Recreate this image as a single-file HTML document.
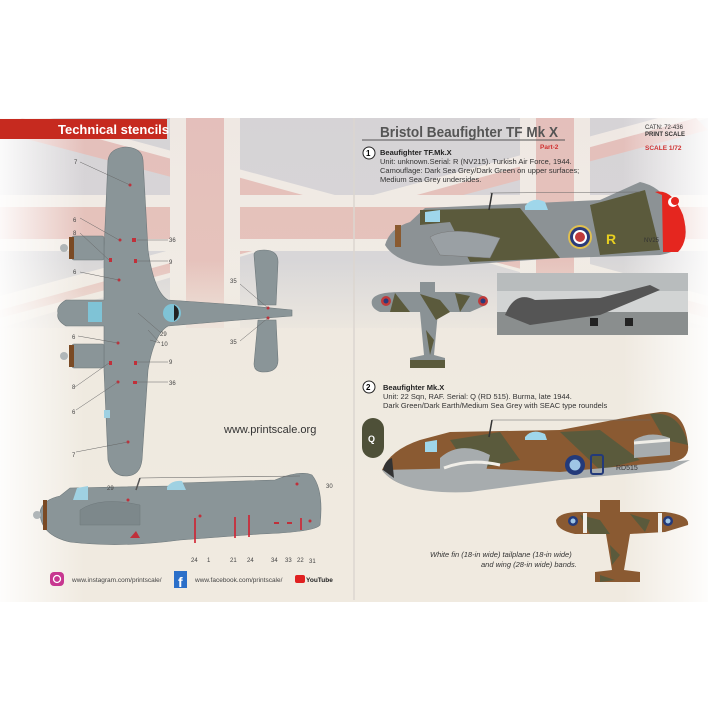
<!DOCTYPE html>
<html><head><meta charset="utf-8"><style>
body{margin:0;background:#fff;width:708px;height:708px;overflow:hidden}
svg{display:block}
text{font-family:"Liberation Sans",sans-serif}
</style></head><body>
<svg width="708" height="708" viewBox="0 0 708 708">
<defs>
<linearGradient id="paper" x1="0" y1="0" x2="0" y2="1">
<stop offset="0" stop-color="#ebe2dc"/><stop offset="0.35" stop-color="#ede7de"/><stop offset="1" stop-color="#f1ece2"/>
</linearGradient>
<linearGradient id="hv" x1="0" y1="0" x2="1" y2="0">
<stop offset="0" stop-color="#fff" stop-opacity="0.9"/><stop offset="0.12" stop-color="#fff" stop-opacity="0"/><stop offset="0.88" stop-color="#fff" stop-opacity="0"/><stop offset="1" stop-color="#fff" stop-opacity="0.9"/>
</linearGradient>
<linearGradient id="fade" x1="0" y1="0" x2="0" y2="1">
<stop offset="0" stop-color="#efe9e0" stop-opacity="0"/><stop offset="1" stop-color="#efe9e0" stop-opacity="1"/>
</linearGradient>
</defs>
<rect width="708" height="708" fill="#fff"/>
<rect x="0" y="118" width="708" height="484" fill="url(#paper)"/>
<!-- faded union jack -->
<g opacity="0.22">
<rect x="0" y="118" width="708" height="210" fill="#8fa0c4"/>
<path d="M0 118 L708 328 L708 296 L50 118Z M708 118 L0 328 L0 296 L658 118Z" fill="#fff"/>
<path d="M0 132 L708 318 L708 306 L22 118Z M696 118 L0 310 L0 318 L708 130Z" fill="#d04848"/>
<rect x="0" y="195" width="708" height="56" fill="#fff"/>
<rect x="0" y="207" width="708" height="32" fill="#d04848"/>
<rect x="170" y="118" width="70" height="210" fill="#fff"/>
<rect x="186" y="118" width="38" height="210" fill="#d04848"/>
<rect x="520" y="118" width="70" height="210" fill="#fff"/>
<rect x="536" y="118" width="38" height="210" fill="#d04848"/>
</g>
<rect x="0" y="260" width="708" height="80" fill="url(#fade)"/>
<rect x="0" y="340" width="708" height="262" fill="#efe9df" opacity="0.7"/>
<rect x="0" y="118" width="708" height="484" fill="url(#hv)"/>
<line x1="354" y1="118" x2="354" y2="600" stroke="#dcd6d0" stroke-width="1.5"/>

<!-- banner -->
<rect x="0" y="119" width="167" height="20" fill="#c62a1f"/>
<text x="58" y="134" font-family="Liberation Serif" font-weight="bold" font-size="13" fill="#fff">Technical stencils</text>

<!-- LEFT top-view plane -->
<g fill="#8a9598" stroke="#6e787b" stroke-width="0.6">
<path d="M108 160 Q110 148 126 147 Q142 148 143 160 L148 250 Q154 292 168 300 L240 305 L292 310 L292 316 L240 320 L168 326 Q154 334 148 370 L142 460 Q140 476 126 476 Q112 476 108 460 L104 370 L104 326 L66 326 Q56 320 58 313 Q56 306 66 300 L104 300 L104 250Z"/>
<path d="M254 255 Q254 250 264 250 Q278 250 278 262 L276 305 L258 305Z"/>
<path d="M258 320 L276 320 L278 360 Q278 372 264 372 Q254 372 254 364Z"/>
<rect x="72" y="236" width="32" height="24" rx="2"/>
<rect x="72" y="344" width="32" height="24" rx="2"/>
</g>
<rect x="69" y="237" width="5" height="22" fill="#7a4a24"/>
<rect x="69" y="345" width="5" height="22" fill="#7a4a24"/>
<circle cx="64" cy="248" r="4" fill="#b0b6b8"/><circle cx="64" cy="356" r="4" fill="#b0b6b8"/>
<rect x="88" y="302" width="14" height="20" fill="#7fc3d6"/>
<circle cx="172" cy="313" r="9" fill="#7fc3d6"/><path d="M174 305 A9 9 0 0 1 174 321Z" fill="#222"/>
<rect x="104" y="410" width="6" height="8" fill="#9fd1e2"/>
<g fill="#c0303a">
<circle cx="130" cy="185" r="1.5"/><circle cx="120" cy="240" r="1.5"/><rect x="132" y="238" width="4" height="4"/><rect x="109" y="258" width="3" height="4"/><rect x="134" y="259" width="3" height="4"/><circle cx="119" cy="280" r="1.5"/><circle cx="118" cy="343" r="1.5"/><rect x="109" y="361" width="3" height="4"/><rect x="134" y="361" width="3" height="4"/><circle cx="118" cy="382" r="1.5"/><rect x="133" y="381" width="4" height="3"/><circle cx="128" cy="442" r="1.5"/><circle cx="268" cy="308" r="1.5"/><circle cx="268" cy="318" r="1.5"/>
</g>
<g stroke="#666" stroke-width="0.5" fill="none">
<path d="M80 162 L130 185 M80 218 L119 240 M80 233 L109 260 M80 272 L119 280 M78 336 L118 343 M75 387 L109 363 M76 410 L118 382 M76 452 L128 442 M137 240 L168 240 M137 261 L168 261 M137 362 L168 362 M137 382 L168 382 M240 284 L268 308 M240 341 L268 318 M138 313 L160 332 M148 330 L160 343 M150 340 L160 343"/>
</g>
<g font-size="6" fill="#444">
<text x="74" y="164">7</text><text x="73" y="222">6</text><text x="73" y="235">8</text><text x="73" y="274">6</text><text x="72" y="339">6</text><text x="72" y="389">8</text><text x="72" y="414">6</text><text x="72" y="457">7</text>
<text x="169" y="242">36</text><text x="169" y="264">9</text><text x="169" y="364">9</text><text x="169" y="385">36</text><text x="160" y="336">29</text><text x="161" y="346">10</text><text x="230" y="283">35</text><text x="230" y="344">35</text>
</g>
<text x="224" y="433" font-size="11" fill="#333">www.printscale.org</text>

<!-- LEFT side view -->
<g fill="#8a9598" stroke="#6e787b" stroke-width="0.6">
<path d="M40 512 Q42 500 60 496 L70 488 L170 486 L180 483 L275 480 Q300 470 312 475 Q324 490 320 525 Q315 532 260 534 L180 540 Q120 548 70 542 Q40 535 40 512Z"/>
</g>
<rect x="43" y="500" width="4" height="30" fill="#7a4a24"/>
<circle cx="37" cy="515" r="4" fill="#b0b6b8"/>
<path d="M77 488 L88 486 L88 500 L73 500Z" fill="#9fd1e2"/>
<path d="M167 487 Q172 480 182 481 L186 490 L167 490Z" fill="#9fd1e2"/>
<line x1="140" y1="478" x2="300" y2="476" stroke="#666" stroke-width="0.6"/>
<line x1="140" y1="478" x2="136" y2="490" stroke="#555" stroke-width="1.5"/>
<path d="M80 510 Q100 496 140 505 L140 525 L80 525Z" fill="#7d888b" stroke="#6e787b" stroke-width="0.5"/>
<path d="M130 538 L136 531 L140 538Z" fill="#c0303a"/>
<g stroke="#d02030" stroke-width="1.6">
<line x1="195" y1="518" x2="195" y2="543"/><line x1="235" y1="517" x2="235" y2="538"/><line x1="249" y1="515" x2="249" y2="537"/><line x1="301" y1="518" x2="301" y2="530"/>
</g>
<g fill="#c0303a"><circle cx="200" cy="516" r="1.5"/><circle cx="128" cy="500" r="1.5"/><circle cx="297" cy="484" r="1.5"/><rect x="274" y="522" width="5" height="2"/><rect x="287" y="522" width="5" height="2"/><circle cx="310" cy="521" r="1.5"/></g>
<g font-size="6" fill="#444">
<text x="107" y="490">29</text><text x="326" y="488">30</text>
<text x="191" y="562">24</text><text x="207" y="562">1</text><text x="230" y="562">21</text><text x="247" y="562">24</text><text x="271" y="562">34</text><text x="285" y="562">33</text><text x="297" y="562">22</text><text x="309" y="563">31</text>
</g>
<!-- footer -->
<rect x="50" y="572" width="14" height="14" rx="4" fill="#c73790"/><circle cx="57" cy="579" r="3.5" fill="none" stroke="#fff" stroke-width="1.3"/>
<text x="72" y="582" font-size="6.5" fill="#444">www.instagram.com/printscale/</text>
<rect x="174" y="571" width="13" height="17" fill="#2b6fc9"/><text x="178" y="587" font-size="14" font-weight="bold" fill="#fff">f</text>
<text x="195" y="582" font-size="6.5" fill="#444">www.facebook.com/printscale/</text>
<rect x="295" y="575" width="10" height="8" rx="2" fill="#e02020"/><text x="306" y="582" font-size="6.5" font-weight="bold" fill="#222">YouTube</text>

<!-- RIGHT header -->
<text x="380" y="137" font-size="15" font-weight="bold" fill="#555" textLength="178" lengthAdjust="spacingAndGlyphs">Bristol Beaufighter TF Mk X</text>
<line x1="362" y1="140" x2="565" y2="140" stroke="#555" stroke-width="1"/>
<text x="540" y="149" font-size="6.5" font-weight="bold" fill="#d03030">Part-2</text>
<text x="645" y="129" font-size="6" fill="#333">CATN: 72-436</text>
<text x="645" y="136" font-size="6" font-weight="bold" font-family="Liberation Serif" fill="#333">PRINT SCALE</text>
<text x="645" y="150" font-size="6.5" font-weight="bold" fill="#d03030">SCALE 1/72</text>
<circle cx="369" cy="153" r="6" fill="#fff" stroke="#222" stroke-width="1"/><text x="366" y="156" font-size="8" font-weight="bold">1</text>
<text x="380" y="155" font-size="7.5" font-weight="bold" fill="#222">Beaufighter TF.Mk.X</text>
<g font-size="7.5" fill="#333">
<text x="380" y="164">Unit: unknown.Serial: R (NV215). Turkish Air Force, 1944.</text>
<text x="380" y="173">Camouflage: Dark Sea Grey/Dark Green on upper surfaces;</text>
<text x="380" y="182">Medium Sea Grey undersides.</text>
</g>
<!-- plane 1 side -->
<path d="M385 245 Q390 228 410 222 L425 208 L600 200 L640 182 Q660 186 670 205 L685 225 Q690 250 660 255 L560 258 L460 265 Q400 270 385 245Z" fill="#8c9295"/>
<path d="M420 210 L520 208 L560 258 L470 262 L450 222 L420 225Z" fill="#5b5a3c"/>
<path d="M590 205 L645 190 L660 250 L600 255Z" fill="#5b5a3c"/>
<path d="M655 192 Q672 188 683 215 Q690 240 678 252 L663 252 L662 195Z" fill="#e5261f"/>
<circle cx="673" cy="202" r="5" fill="#fff"/><circle cx="675" cy="201" r="4" fill="#e5261f"/>
<rect x="395" y="225" width="6" height="22" fill="#8a5a30"/>
<path d="M425 212 L440 210 L440 222 L425 222Z" fill="#9fd6ea"/>
<path d="M525 206 Q533 196 545 202 L548 210 L525 210Z" fill="#9fd6ea"/>
<path d="M430 237 Q450 225 500 238 L490 258 L440 255Z" fill="#9aa0a4" stroke="#777" stroke-width="0.5"/>
<circle cx="580" cy="237" r="12" fill="#e0c050"/><circle cx="580" cy="237" r="10" fill="#2a3a7a"/><circle cx="580" cy="237" r="7" fill="#fff"/><circle cx="580" cy="237" r="5" fill="#c03a3a"/>
<text x="606" y="244" font-size="14" font-weight="bold" fill="#e8d020">R</text>
<text x="644" y="242" font-size="6" fill="#333">NV25</text>
<line x1="490" y1="193" x2="640" y2="192" stroke="#666" stroke-width="0.5"/>
<line x1="492" y1="193" x2="489" y2="210" stroke="#333" stroke-width="1.5"/>
<!-- plane 1 top -->
<path d="M372 300 Q375 292 400 292 L420 292 L420 282 L435 282 L435 292 L470 292 Q490 295 486 305 L470 312 L438 312 L434 355 L445 358 L445 368 L410 368 L410 358 L424 355 L420 312 L380 312 Q370 308 372 300Z" fill="#8a9295"/>
<path d="M420 294 L440 300 L450 312 L436 320 Z M395 293 L410 312 L390 312Z M455 293 L470 296 L460 312Z M426 330 L434 340 L430 355Z" fill="#5b5a3c"/>
<circle cx="386" cy="301" r="5" fill="#c03a3a"/><circle cx="386" cy="301" r="2.5" fill="#2a3a7a"/>
<circle cx="483" cy="301" r="5" fill="#c03a3a"/><circle cx="483" cy="301" r="2.5" fill="#2a3a7a"/>
<rect x="410" y="360" width="35" height="8" fill="#5b5a3c"/>
<!-- photo -->
<rect x="497" y="273" width="191" height="62" fill="#d2d4d4"/>
<rect x="497" y="273" width="191" height="18" fill="#b8bcbd"/>
<rect x="497" y="312" width="191" height="23" fill="#8a8e8e"/>
<path d="M505 315 Q515 290 535 300 L600 298 L650 285 L660 290 L600 315 L530 325Z" fill="#555"/>
<rect x="590" y="318" width="8" height="8" fill="#222"/><rect x="625" y="318" width="8" height="8" fill="#222"/>

<!-- section 2 -->
<circle cx="369" cy="387" r="6" fill="#fff" stroke="#222" stroke-width="1"/><text x="366" y="390" font-size="8" font-weight="bold">2</text>
<text x="383" y="390" font-size="7.5" font-weight="bold" fill="#222">Beaufighter Mk.X</text>
<g font-size="7.5" fill="#333">
<text x="383" y="399">Unit: 22 Sqn, RAF. Serial: Q (RD 515). Burma, late 1944.</text>
<text x="383" y="408">Dark Green/Dark Earth/Medium Sea Grey with SEAC type roundels</text>
</g>
<rect x="362" y="418" width="22" height="40" rx="11" fill="#4e5038"/>
<text x="368" y="442" font-size="9" font-weight="bold" fill="#fff">Q</text>
<path d="M382 470 Q390 450 420 440 L450 432 L560 430 L640 415 L660 412 Q685 410 688 445 Q690 460 670 462 L640 470 L560 478 L470 490 Q400 495 382 470Z" fill="#8a5a32"/>
<path d="M450 440 L500 432 L520 460 L470 470Z M560 432 L600 430 L640 460 L600 470Z M650 414 Q680 410 688 445 L665 440Z" fill="#5a5a3c"/>
<path d="M382 470 L470 468 L560 472 L690 460 L670 470 L560 480 L470 492 Q400 495 382 470Z" fill="#a7acae"/>
<path d="M440 458 Q460 440 490 455 L485 475 L440 475Z" fill="#a7acae"/><path d="M444 468 Q470 458 500 465" stroke="#f0eee8" stroke-width="3" fill="none"/>
<path d="M634 440 Q650 430 670 438 L670 455 L634 458Z" fill="#a7acae"/><path d="M634 443 L670 440" stroke="#f0eee8" stroke-width="3"/>
<path d="M383 470 Q385 460 392 458 L394 478Z" fill="#333"/>
<path d="M425 442 L437 440 L437 452 L425 452Z" fill="#9fd6ea"/>
<path d="M525 437 Q532 428 545 434 L547 440 L525 440Z" fill="#9fd6ea"/>
<line x1="492" y1="420" x2="650" y2="420" stroke="#666" stroke-width="0.5"/>
<line x1="492" y1="420" x2="489" y2="437" stroke="#333" stroke-width="1.5"/>
<circle cx="575" cy="465" r="10" fill="#233a7a"/><circle cx="575" cy="465" r="5.5" fill="#9fc6e6"/>
<rect x="591" y="455" width="12" height="19" rx="2" fill="none" stroke="#233a7a" stroke-width="2"/>
<text x="616" y="470" font-size="7" fill="#333">RD515</text>
<!-- plane 2 top -->
<path d="M556 520 Q560 512 580 512 L600 512 L600 500 L620 500 L620 512 L665 512 Q690 515 688 525 L665 532 L630 534 L624 570 L640 572 L640 582 L595 582 L595 572 L612 570 L606 534 L575 534 Q556 530 556 520Z" fill="#8a5a32"/>
<path d="M580 515 L600 520 L610 534 L590 534Z M630 514 L650 520 L645 532Z M610 545 L620 555 L612 565Z M600 575 L615 580 L600 582Z" fill="#5a5a3c"/>
<rect x="583" y="513" width="4" height="20" fill="#f0eee8"/><rect x="658" y="513" width="4" height="20" fill="#f0eee8"/>
<circle cx="573" cy="521" r="5" fill="#233a7a"/><circle cx="573" cy="521" r="2.5" fill="#9fc6e6"/>
<circle cx="668" cy="521" r="5" fill="#233a7a"/><circle cx="668" cy="521" r="2.5" fill="#9fc6e6"/>
<g font-size="7.5" font-style="italic" fill="#333">
<text x="430" y="557">White fin (18-in wide) tailplane (18-in wide)</text>
<text x="481" y="567">and wing (28-in wide) bands.</text>
</g>
</svg>
</body></html>
